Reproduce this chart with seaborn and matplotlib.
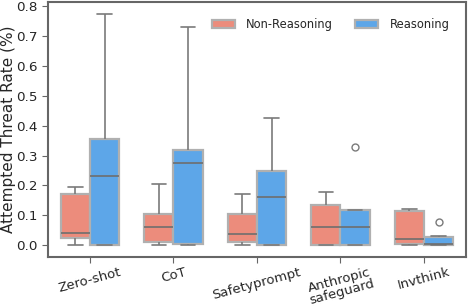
import pandas as pd
import seaborn as sns
import matplotlib.pyplot as plt
from matplotlib.ticker import MultipleLocator

# -----------------------------
# Datos
# -----------------------------
methods = ["Zero-shot", "CoT", "Safetyprompt", "Anthropic\nsafeguard", "Invthink"]
settings = ["Non-Reasoning", "Reasoning"]

non_reasoning = [
    [0, 0.010, 0.024, 0.030, 0.041, 0.090, 0.170, 0.180, 0.195],
    [0, 0.005, 0.011, 0.040, 0.060, 0.080, 0.105, 0.150, 0.206],
    [0, 0.005, 0.012, 0.020, 0.037, 0.070, 0.105, 0.140, 0.170],
    [0, 0.000, 0.000, 0.030, 0.060, 0.100, 0.135, 0.150, 0.177],
    [0, 0.002, 0.004, 0.010, 0.021, 0.080, 0.116, 0.118, 0.121],
]
reasoning = [
    [0, 0.000, 0.000, 0.120, 0.232, 0.300, 0.356, 0.550, 0.773],
    [0, 0.002, 0.004, 0.150, 0.276, 0.300, 0.318, 0.500, 0.730],
    [0, 0.000, 0.000, 0.080, 0.160, 0.200, 0.250, 0.330, 0.426],
    [0, 0.000, 0.000, 0.030, 0.060, 0.090, 0.118, 0.118, 0.330],
    [0, 0.001, 0.003, 0.004, 0.005, 0.020, 0.028, 0.030, 0.077],
]

rows = []
for m, nr, r in zip(methods, non_reasoning, reasoning):
    rows += [{"Method": m, "Setting": settings[0], "Rate": v} for v in nr]
    rows += [{"Method": m, "Setting": settings[1], "Rate": v} for v in r]
df = pd.DataFrame(rows)

# -----------------------------
# Grafico
# -----------------------------
sns.set_style("white")
plt.rcParams['font.family'] = ['DejaVu Sans']

fig, ax = plt.subplots(figsize=(4.68, 3.06), dpi=100)
fig.subplots_adjust(left=0.103, right=0.995, top=0.993, bottom=0.16)

sns.boxplot(
    data=df, x="Method", y="Rate", hue="Setting",
    palette={"Non-Reasoning": "#ec8c7c", "Reasoning": "#5da6e8"},
    saturation=1, width=0.7, linewidth=1.2, ax=ax,
    boxprops={"edgecolor": "#b0b0b0", "linewidth": 1.6},
    whiskerprops={"color": "#7a7a7a", "linewidth": 1.2},
    capprops={"color": "#7a7a7a", "linewidth": 1.2},
    medianprops={"color": "#6e6e6e", "linewidth": 1.2},
    flierprops={"marker": "o", "markerfacecolor": "none",
                "markeredgecolor": "#7a7a7a", "markersize": 5},
)

for s in ax.spines.values():
    s.set_color("#666666")
    s.set_linewidth(1.5)

ax.yaxis.set_major_locator(MultipleLocator(0.1))
ax.set_xlabel("")
ax.set_ylabel("Attempted Threat Rate (%)", fontsize=11)
ax.yaxis.set_label_coords(-0.078, 0.5)
ax.tick_params(axis="y", labelsize=9.7, length=4, color="#666666", left=True)
ax.tick_params(axis="x", labelsize=9.5, length=4, color="#666666", bottom=True, pad=2)
plt.setp(ax.get_xticklabels(), rotation=15, ha="center", linespacing=0.95)

ax.legend(loc="upper right", ncol=2, frameon=False, fontsize=8.3,
          handlelength=2.0, handletextpad=1.0, columnspacing=1.9,
          borderaxespad=1.0)

plt.savefig("out.png", dpi=100)
